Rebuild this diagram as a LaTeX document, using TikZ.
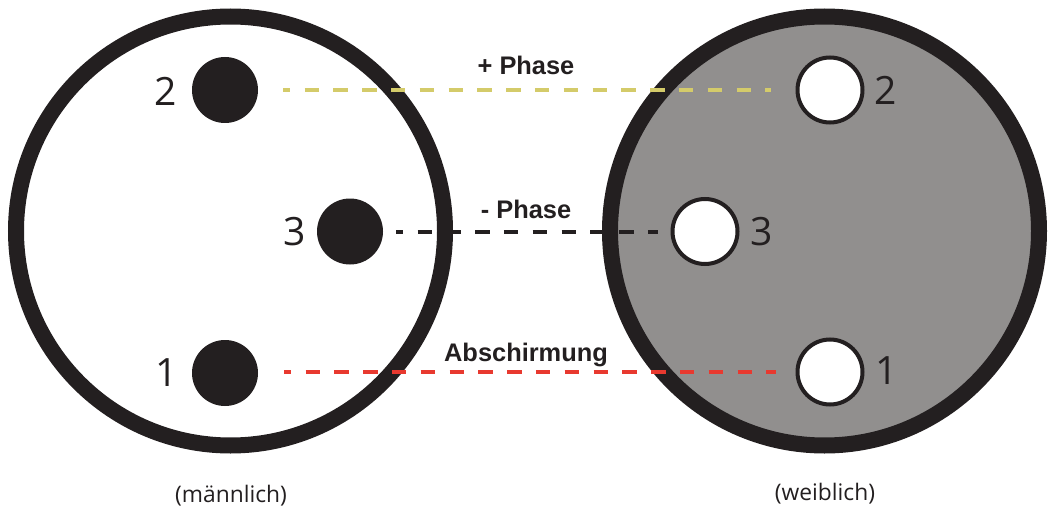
\documentclass[tikz,border=0pt]{standalone}
\usepackage{fontspec}
\setmainfont{Open Sans}
\newfontfamily\labelfont{Liberation Sans}
\definecolor{ringcol}{HTML}{231F20}
\definecolor{platecol}{HTML}{918F8E}
\definecolor{pluscol}{HTML}{D4CB6A}
\definecolor{minuscol}{HTML}{231F20}
\definecolor{shieldcol}{HTML}{E8392F}
\tikzset{
	plate/.style={circle,draw=ringcol,line width=16pt,minimum size=429pt,inner sep=0pt},
	pin/.style={circle,fill=ringcol,minimum size=66pt,inner sep=0pt},
	hole/.style={circle,draw=ringcol,fill=white,line width=4pt,minimum size=65pt,inner sep=0pt},
	num/.style={text=ringcol,font=\fontsize{39}{39}\selectfont,inner sep=0pt},
	wire/.style={line width=4pt,dash pattern=on 14.5pt off 14.3pt,dash phase=7.5pt},
	wirename/.style={text=ringcol,font=\labelfont\bfseries\fontsize{25.4}{25.4}\selectfont,inner sep=0pt},
	side/.style={text=ringcol,font=\fontsize{22.8}{22.8}\selectfont,inner sep=0pt}
}
\begin{document}
\begin{tikzpicture}[x=1pt,y=-1pt]
	\useasboundingbox (0,0) rectangle (1058,516);
	\node[plate] (male) at (230.5,231) {};
	\node[plate,fill=platecol] (female) at (824.5,231) {};
	% Stifte
	\node[pin] (mtwo) at (225,90) {};
	\node[pin] (mthree) at (350,231.5) {};
	\node[pin] (mone) at (225,373) {};
	\node[num] at (165.5,91) {2};
	\node[num] at (295,232) {3};
	\node[num] at (167,373) {1};
	% Buchsen
	\node[hole] (ftwo) at (830,90) {};
	\node[hole] (fthree) at (705,231.5) {};
	\node[hole] (fone) at (830,372) {};
	\node[num] at (885.5,90) {2};
	\node[num] at (762,232) {3};
	\node[num] at (887,371) {1};
	% Adern
	\draw[wire,pluscol,shorten <=25pt,shorten >=25pt] (mtwo) -- (ftwo);
	\draw[wire,minuscol,shorten <=13pt,shorten >=12.5pt] (mthree) -- (fthree);
	\draw[wire,shieldcol,shorten <=26pt,shorten >=20pt] (mone.east |- fone.west) -- (fone.west);
	\node[wirename] at (526,65.5) {+ Phase};
	\node[wirename] at (526,209.5) {- Phase};
	\node[wirename] at (526,354.5) {Abschirmung};
	\node[side] at (231,496) {(männlich)};
	\node[side] at (825,494) {(weiblich)};
\end{tikzpicture}
\end{document}
